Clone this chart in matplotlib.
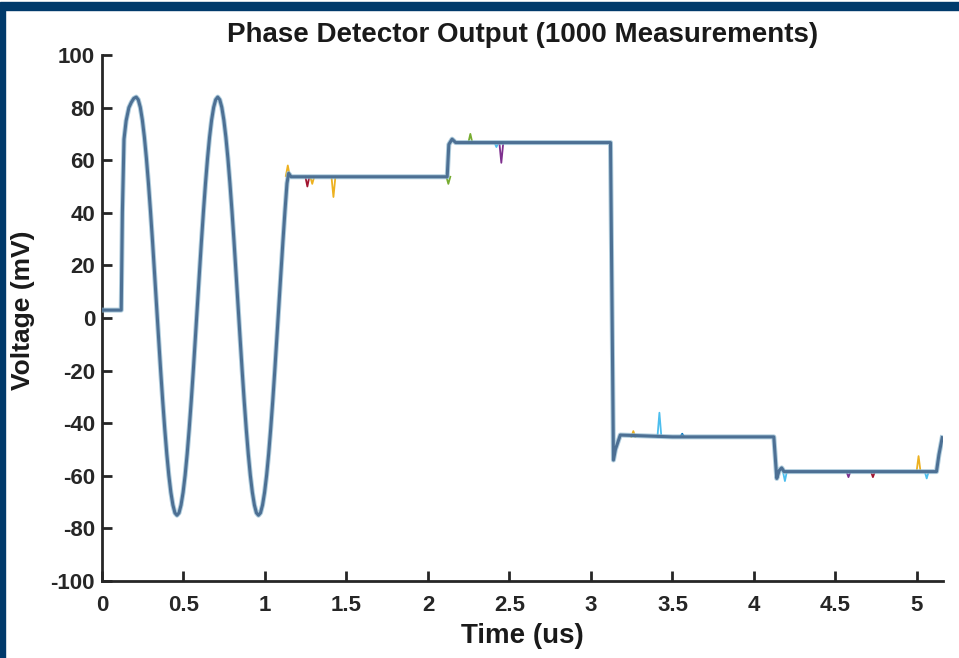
import matplotlib
matplotlib.use("Agg")
import matplotlib.pyplot as plt
from matplotlib.patches import Rectangle

# ---- data ----
# main (overlaid) trace: time in us, voltage in mV
t_main = [0.0, 0.118, 0.125, 0.135, 0.148, 0.165, 0.18, 0.195,
          0.21, 0.2225, 0.235, 0.2475, 0.26, 0.2725, 0.285, 0.2975, 0.31, 0.3225,
          0.335, 0.3475, 0.36, 0.3725, 0.385, 0.3975, 0.41, 0.4225, 0.435, 0.4475,
          0.46, 0.4725, 0.485, 0.4975, 0.51, 0.5225, 0.535, 0.5475, 0.56, 0.5725,
          0.585, 0.5975, 0.61, 0.6225, 0.635, 0.6475, 0.66, 0.6725, 0.685, 0.6975,
          0.71, 0.7225, 0.735, 0.7475, 0.76, 0.7725, 0.785, 0.7975, 0.81, 0.8225,
          0.835, 0.8475, 0.86, 0.8725, 0.885, 0.8975, 0.91, 0.9225, 0.935, 0.9475,
          0.96, 0.9725, 0.985, 0.9975, 1.01, 1.0225, 1.035, 1.0475, 1.06, 1.0725,
          1.085, 1.0975, 1.11, 1.1225, 1.135, 1.145, 1.16,
          1.5, 1.8, 2.118, 2.128, 2.148, 2.17, 2.5, 2.8,
          3.12, 3.138, 3.15, 3.18, 3.5, 3.8, 4.122, 4.14, 4.155, 4.17, 4.185,
          4.5, 4.8, 5.12, 5.135, 5.155]
v_main = [3.0, 3.0, 40.0, 68.0, 75.0, 80.0, 82.0, 83.5,
          84.0, 83.0, 80.1, 75.3, 68.8, 60.7, 51.2, 40.6, 29.1, 16.9,
          4.5, -7.9, -20.1, -31.6, -42.2, -51.7, -59.8, -66.3, -71.1, -74.1,
          -75.0, -74.1, -71.1, -66.3, -59.8, -51.7, -42.2, -31.6, -20.1, -7.9,
          4.5, 16.9, 29.1, 40.6, 51.2, 60.7, 68.8, 75.3, 80.1, 83.0,
          84.0, 83.0, 80.1, 75.3, 68.8, 60.7, 51.2, 40.6, 29.1, 16.9,
          4.5, -7.9, -20.1, -31.6, -42.2, -51.7, -59.8, -66.3, -71.1, -74.1,
          -75.0, -74.1, -71.1, -66.3, -59.8, -51.7, -42.2, -31.6, -20.1, -7.9,
          4.5, 16.9, 29.1, 40.6, 51.2, 55.0, 53.7,
          53.7, 53.7, 53.7, 66.0, 68.0, 66.7, 66.7, 66.7,
          66.7, -54.0, -50.0, -44.5, -45.2, -45.2, -45.2, -61.0, -58.0, -57.0, -58.4,
          -58.4, -58.4, -58.4, -52.0, -45.5]

# single-measurement glitches: time, glitch peak, base level, colour
glitch_t = [1.14, 1.26, 1.29, 1.42, 2.125, 2.26, 2.42, 2.45, 3.26, 3.42, 3.56,
            4.19, 4.58, 4.73, 5.01, 5.06]
glitch_v = [58.0, 50.0, 51.0, 46.0, 51.0, 70.0, 65.0, 59.0, -43.0, -36.0, -44.0,
            -62.0, -60.5, -60.5, -52.5, -61.0]
glitch_base = [54.0, 53.7, 53.7, 53.7, 53.7, 66.7, 66.7, 66.7, -45.2, -45.2, -45.2,
               -58.4, -58.4, -58.4, -58.4, -58.4]
glitch_c = ["#EDB120", "#A2142F", "#EDB120", "#EDB120", "#77AC30", "#77AC30",
            "#4DBEEE", "#7E2F8E", "#EDB120", "#4DBEEE", "#0072BD",
            "#4DBEEE", "#7E2F8E", "#A2142F", "#EDB120", "#4DBEEE"]

x_ticks = [0, 0.5, 1, 1.5, 2, 2.5, 3, 3.5, 4, 4.5, 5]
x_tick_labels = ["0", "0.5", "1", "1.5", "2", "2.5", "3", "3.5", "4", "4.5", "5"]
y_ticks = [-100, -80, -60, -40, -20, 0, 20, 40, 60, 80, 100]

plt.rcParams["font.family"] = ["Liberation Sans", "DejaVu Sans"]
plt.rcParams["font.weight"] = "bold"
plt.rcParams["axes.unicode_minus"] = False

fig = plt.figure(figsize=(9.59, 6.58), dpi=100)
fig.patch.set_facecolor("white")
ax = fig.add_axes([102 / 959, 1 - 581 / 658, (943 - 102) / 959, (581 - 55) / 658])

# frame of the slide
fig.patches.append(Rectangle((0, 1 - 10 / 658), 1, 8 / 658, transform=fig.transFigure,
                             color="#003a6b", zorder=0))
fig.patches.append(Rectangle((0, 0), 5 / 959, 1 - 3 / 658, transform=fig.transFigure,
                             color="#003a6b", zorder=0))

# glitches, drawn under the main trace
for t, v, b, c in zip(glitch_t, glitch_v, glitch_base, glitch_c):
    ax.plot([t - 0.012, t, t + 0.012], [b, v, b], color=c, lw=1.3, zorder=2)

ax.plot(t_main, v_main, color="#8fb8cf", lw=3.6, alpha=0.7, zorder=3,
        solid_joinstyle="round")
ax.plot(t_main, v_main, color="#4d7094", lw=2.2, zorder=4, solid_joinstyle="round")

ax.set_xlim(0, 5.16)
ax.set_ylim(-100, 100)
ax.set_xticks(x_ticks)
ax.set_xticklabels(x_tick_labels)
ax.set_yticks(y_ticks)
for s in ["top", "right"]:
    ax.spines[s].set_visible(False)
for s in ["left", "bottom"]:
    ax.spines[s].set_linewidth(2.0)
    ax.spines[s].set_color("#262626")
ax.tick_params(direction="in", length=7, width=2, colors="#262626", labelsize=16)
ax.tick_params(axis="x", pad=10)
ax.tick_params(axis="y", pad=5)
for lab in ax.get_xticklabels() + ax.get_yticklabels():
    lab.set_fontweight("bold")

ax.set_title("Phase Detector Output (1000 Measurements)", fontsize=20,
             fontweight="bold", color="#1a1a1a", pad=9)
ax.set_xlabel("Time (us)", fontsize=20, fontweight="bold", color="#1a1a1a")
ax.set_ylabel("Voltage (mV)", fontsize=19, fontweight="bold", color="#1a1a1a")
ax.xaxis.set_label_coords(0.5, -0.080)
ax.yaxis.set_label_coords(-0.080, 0.515)

fig.savefig("out.png", dpi=100, facecolor="white")
